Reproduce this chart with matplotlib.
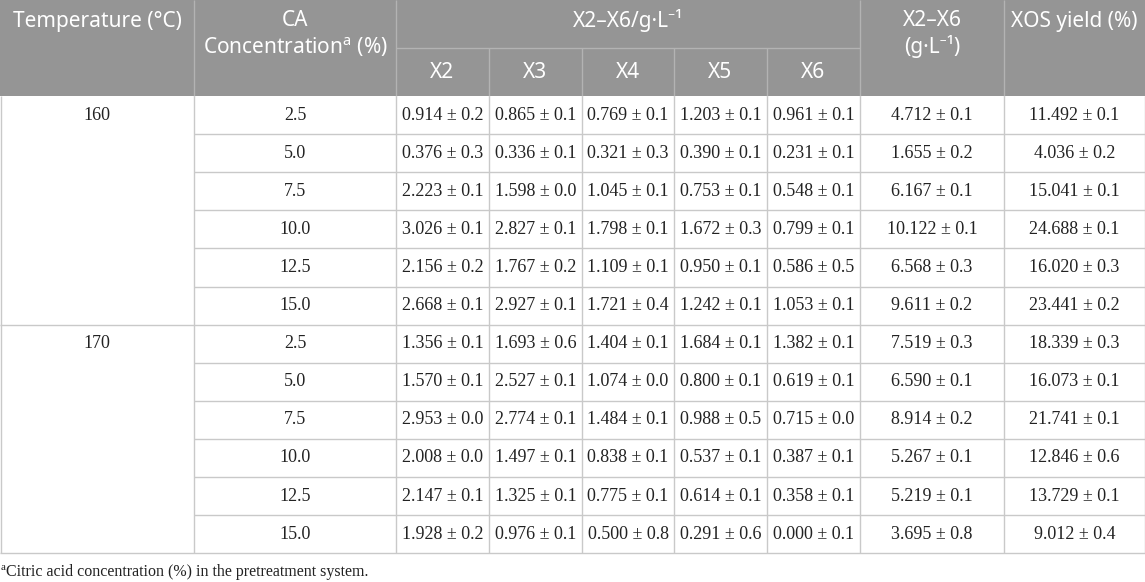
import matplotlib
matplotlib.use("Agg")
import matplotlib.pyplot as plt
from matplotlib.patches import Rectangle

plt.rcParams["mathtext.fontset"] = "custom"
plt.rcParams["mathtext.rm"] = "Noto Sans"

# table data
temperatures = [160, 170]
ca_conc = [2.5, 5.0, 7.5, 10.0, 12.5, 15.0]

x2 = [0.914, 0.376, 2.223, 3.026, 2.156, 2.668, 1.356, 1.570, 2.953, 2.008, 2.147, 1.928]
x2_sd = [0.2, 0.3, 0.1, 0.1, 0.2, 0.1, 0.1, 0.1, 0.0, 0.0, 0.1, 0.2]
x3 = [0.865, 0.336, 1.598, 2.827, 1.767, 2.927, 1.693, 2.527, 2.774, 1.497, 1.325, 0.976]
x3_sd = [0.1, 0.1, 0.0, 0.1, 0.2, 0.1, 0.6, 0.1, 0.1, 0.1, 0.1, 0.1]
x4 = [0.769, 0.321, 1.045, 1.798, 1.109, 1.721, 1.404, 1.074, 1.484, 0.838, 0.775, 0.500]
x4_sd = [0.1, 0.3, 0.1, 0.1, 0.1, 0.4, 0.1, 0.0, 0.1, 0.1, 0.1, 0.8]
x5 = [1.203, 0.390, 0.753, 1.672, 0.950, 1.242, 1.684, 0.800, 0.988, 0.537, 0.614, 0.291]
x5_sd = [0.1, 0.1, 0.1, 0.3, 0.1, 0.1, 0.1, 0.1, 0.5, 0.1, 0.1, 0.6]
x6 = [0.961, 0.231, 0.548, 0.799, 0.586, 1.053, 1.382, 0.619, 0.715, 0.387, 0.358, 0.000]
x6_sd = [0.1, 0.1, 0.1, 0.1, 0.5, 0.1, 0.1, 0.1, 0.0, 0.1, 0.1, 0.1]
total = [4.712, 1.655, 6.167, 10.122, 6.568, 9.611, 7.519, 6.590, 8.914, 5.267, 5.219, 3.695]
total_sd = [0.1, 0.2, 0.1, 0.1, 0.3, 0.2, 0.3, 0.1, 0.2, 0.1, 0.1, 0.8]
xos_yield = [11.492, 4.036, 15.041, 24.688, 16.020, 23.441, 18.339, 16.073, 21.741, 12.846, 13.729, 9.012]
xos_yield_sd = [0.1, 0.2, 0.1, 0.1, 0.3, 0.2, 0.3, 0.1, 0.1, 0.6, 0.1, 0.4]

sub_heads = ["X2", "X3", "X4", "X5", "X6"]
footnote = "Citric acid concentration (%) in the pretreatment system."

# layout in pixels
W, H = 1145, 582
col_x = [0, 194, 396, 489, 582, 674, 767, 860, 1004, 1145]
head_h = 96
split_y = 48
row_h = 38.1
n_rows = len(ca_conc) * len(temperatures)

header_bg = "#959595"
grid = "#c9c9c9"
head_line = "#b3b3b3"
serif = "Liberation Serif"
sans = ["Noto Sans", "DejaVu Sans"]

fig = plt.figure(figsize=(W / 100, H / 100), dpi=100)
ax = fig.add_axes([0, 0, 1, 1])
ax.set_xlim(0, W)
ax.set_ylim(H, 0)
ax.axis("off")

# header block
ax.add_patch(Rectangle((0, 0), W, head_h, color=header_bg, lw=0))
ax.vlines([col_x[1], col_x[2], col_x[7], col_x[8]], 0, head_h, color=head_line, lw=1)
ax.vlines(col_x[3:7], split_y, head_h, color=head_line, lw=1)
ax.hlines(split_y, col_x[2], col_x[7], color=head_line, lw=1)

hs = 15
def head(x, y, s):
    ax.text(x, y, s, ha="center", va="center", color="white", fontsize=hs, family=sans)

mid = lambda i: (col_x[i] + col_x[i + 1]) / 2
head(mid(0), 21, "Temperature (°C)")
head(mid(1), 21, "CA")
head(mid(1), 47, r"Concentration$^{\mathrm{a}}$ (%)")
head((col_x[2] + col_x[7]) / 2, 21, "X2–X6/g·L⁻¹")
for i, s in enumerate(sub_heads):
    head(mid(2 + i), 72, s)
head(mid(7), 21, "X2–X6")
head(mid(7), 46, "(g·L⁻¹)")
head(mid(8), 21, "XOS yield (%)")

# body
bottom = head_h + n_rows * row_h
for r in range(1, n_rows):
    y = head_h + r * row_h
    x0 = col_x[0] if r % len(ca_conc) == 0 else col_x[1]
    ax.hlines(y, x0, W, color=grid, lw=1)
ax.hlines(bottom, 0, W, color=grid, lw=1)
ax.vlines(col_x[1:-1], head_h, bottom, color=grid, lw=1)
ax.vlines([0.5, W - 0.5], head_h, bottom, color=grid, lw=1)

bs = 13
cols = [(x2, x2_sd), (x3, x3_sd), (x4, x4_sd), (x5, x5_sd), (x6, x6_sd),
        (total, total_sd), (xos_yield, xos_yield_sd)]
for r in range(n_rows):
    yc = head_h + (r + 0.5) * row_h
    if r % len(ca_conc) == 0:
        ax.text(mid(0), yc, str(temperatures[r // len(ca_conc)]), ha="center", va="center",
                fontsize=bs, family=serif, color="#222222")
    ax.text(mid(1), yc, f"{ca_conc[r % len(ca_conc)]:.1f}", ha="center", va="center",
            fontsize=bs, family=serif, color="#222222")
    for j, (m, sd) in enumerate(cols):
        ax.text(mid(2 + j), yc, f"{m[r]:.3f} ± {sd[r]:.1f}", ha="center", va="center",
                fontsize=bs, family=serif, color="#222222")

# footnote
ax.text(1, 567, "a", ha="left", va="center", fontsize=8, family=serif, color="#222222")
ax.text(6, 572, footnote, ha="left", va="center", fontsize=11.5, family=serif, color="#222222")

fig.savefig("out.png", dpi=100)
